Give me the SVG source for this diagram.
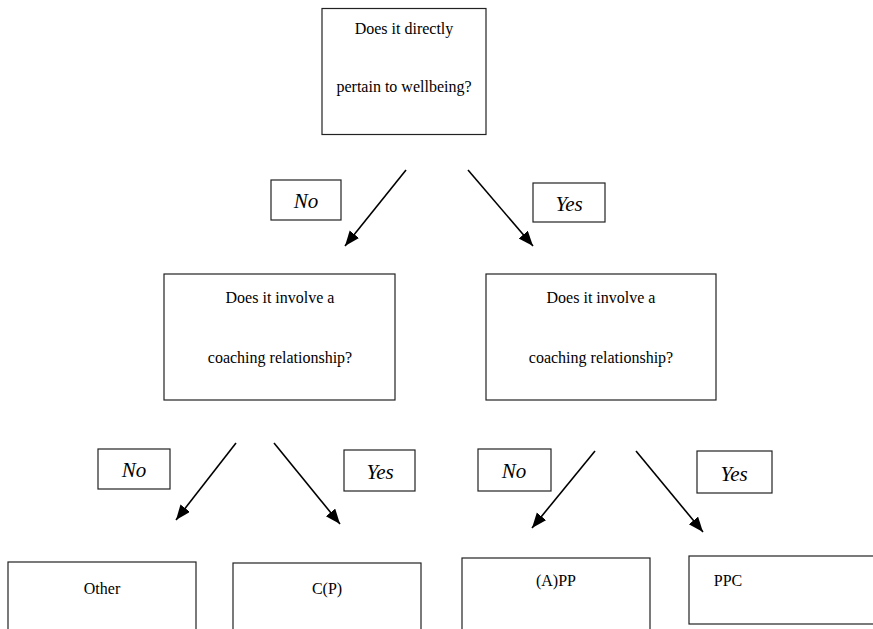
<svg xmlns="http://www.w3.org/2000/svg" width="873" height="629" viewBox="0 0 873 629">
  <style>
    .box { fill: #ffffff; stroke: #222222; stroke-width: 1.2; }
    .lbl { fill: #ffffff; stroke: #222222; stroke-width: 1.2; }
    .t { font-family: "Liberation Serif", "Times New Roman", serif; font-size: 16px; fill: #000000; text-anchor: middle; }
    .ti { font-style: italic; font-size: 21px; }
    .arrow { stroke: #000000; stroke-width: 1.6; fill: none; marker-end: url(#head); }
  </style>
  <defs>
    <marker id="head" markerUnits="userSpaceOnUse" markerWidth="16" markerHeight="14" refX="15" refY="6" orient="auto">
      <path d="M0,0 L15,6 L0,12 z" fill="#000000"/>
    </marker>
  </defs>
  <rect width="873" height="629" fill="#ffffff"/>

  <!-- question: wellbeing -->
  <g id="q-wellbeing">
    <rect class="box" x="322" y="8.5" width="164" height="126"/>
    <text class="t" x="404" y="34">Does it directly</text>
    <text class="t" x="404" y="92">pertain to wellbeing?</text>
  </g>

  <!-- question: coaching (no wellbeing) -->
  <g id="q-coaching-left">
    <rect class="box" x="164" y="274" width="231" height="126"/>
    <text class="t" x="280" y="303">Does it involve a</text>
    <text class="t" x="280" y="363">coaching relationship?</text>
  </g>

  <!-- question: coaching (wellbeing) -->
  <g id="q-coaching-right">
    <rect class="box" x="486" y="274" width="230" height="126"/>
    <text class="t" x="601" y="303">Does it involve a</text>
    <text class="t" x="601" y="363">coaching relationship?</text>
  </g>

  <!-- outcomes -->
  <g id="out-other">
    <rect class="box" x="8" y="562" width="188" height="90"/>
    <text class="t" x="102" y="594">Other</text>
  </g>
  <g id="out-cp">
    <rect class="box" x="233" y="563" width="188" height="90"/>
    <text class="t" x="327" y="594">C(P)</text>
  </g>
  <g id="out-app">
    <rect class="box" x="462" y="558" width="188" height="90"/>
    <text class="t" x="556" y="586">(A)PP</text>
  </g>
  <g id="out-ppc">
    <rect class="box" x="689" y="556" width="220" height="68"/>
    <text class="t" x="728" y="586">PPC</text>
  </g>

  <!-- connectors -->
  <g id="connectors">
    <line class="arrow" x1="406" y1="170" x2="345" y2="246"/>
    <line class="arrow" x1="468" y1="170" x2="533" y2="246"/>
    <line class="arrow" x1="236" y1="443" x2="176" y2="520"/>
    <line class="arrow" x1="274" y1="443" x2="340" y2="524"/>
    <line class="arrow" x1="595" y1="451" x2="532" y2="528"/>
    <line class="arrow" x1="636" y1="451" x2="703" y2="532"/>
  </g>

  <!-- branch labels -->
  <g id="lbl-no-1">
    <rect class="lbl" x="271" y="180" width="70" height="40"/>
    <text class="t ti" x="306" y="208">No</text>
  </g>
  <g id="lbl-yes-1">
    <rect class="lbl" x="533" y="183" width="72" height="39"/>
    <text class="t ti" x="569" y="211">Yes</text>
  </g>
  <g id="lbl-no-2">
    <rect class="lbl" x="98" y="449" width="72" height="40"/>
    <text class="t ti" x="134" y="477">No</text>
  </g>
  <g id="lbl-yes-2">
    <rect class="lbl" x="344" y="450" width="71" height="41"/>
    <text class="t ti" x="380" y="479">Yes</text>
  </g>
  <g id="lbl-no-3">
    <rect class="lbl" x="478" y="449" width="73" height="42"/>
    <text class="t ti" x="514" y="478">No</text>
  </g>
  <g id="lbl-yes-3">
    <rect class="lbl" x="697" y="451" width="75" height="42"/>
    <text class="t ti" x="734" y="481">Yes</text>
  </g>
</svg>
